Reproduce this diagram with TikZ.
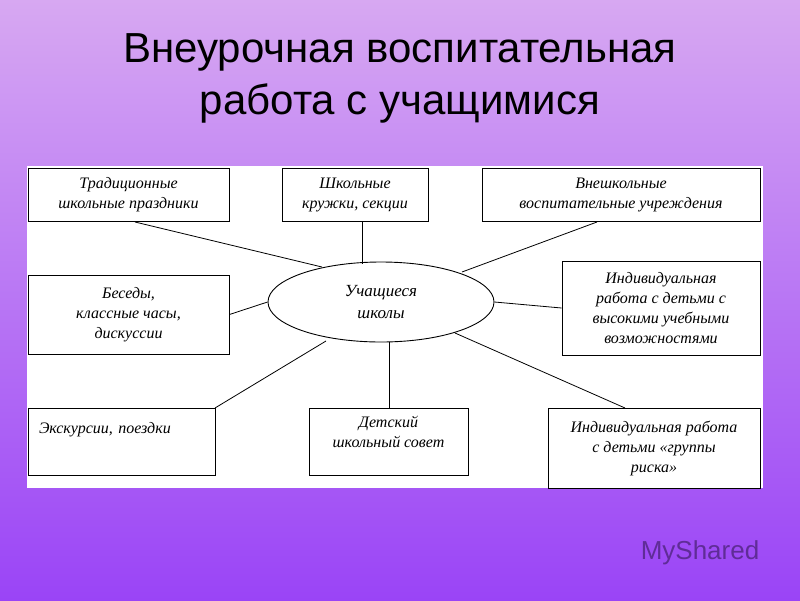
\documentclass[tikz,border=0pt]{standalone}
\usepackage{fontspec}
\usetikzlibrary{shapes.geometric}
\setmainfont{Liberation Serif}
\newfontfamily\titlefont{Liberation Sans}
\definecolor{bgtop}{HTML}{D7A8F2}
\definecolor{bgbot}{HTML}{9A44F6}
\tikzset{
  bx/.style={draw=black,line width=0.9pt,fill=white,inner sep=0pt,font=\itshape\fontsize{16}{20}\selectfont,align=center},
  ln/.style={draw=black,line width=0.8pt}
}
\begin{document}
\begin{tikzpicture}[x=1pt,y=-1pt]
\shade[top color=bgtop,bottom color=bgbot] (0,0) rectangle (800,600);
\useasboundingbox (0,0) rectangle (800,600);
\node[font=\titlefont\fontsize{42}{52}\selectfont,align=center] (title) at (400,78) {Внеурочная воспитательная\\работа с учащимися};
\fill[white] (27,166) rectangle (763,488);
\node[bx,minimum width=201,minimum height=53] (b1) at (128.5,194.5) {Традиционные\\школьные праздники};
\node[bx,minimum width=146,minimum height=53] (b2) at (355,194.5) {Школьные\\кружки, секции};
\node[bx,minimum width=278,minimum height=53] (b3) at (621,194.5) {Внешкольные\\воспитательные учреждения};
\node[bx,minimum width=201,minimum height=79] (b4) at (128.5,314.5) {Беседы,\\классные часы,\\дискуссии};
\node[bx,minimum width=198,minimum height=94] (b5) at (661,308) {Индивидуальная\\работа с детьми с\\высокими учебными\\возможностями};
\node[bx,minimum width=187,minimum height=67,align=left,text width=165] (b6) at (121.5,441.5) {\vspace*{-28pt}\newline Экскурсии, поездки};
\node[bx,minimum width=159,minimum height=67] (b7) at (388.5,441.5) {Детский\\школьный совет\\[-6pt]\strut};
\node[bx,minimum width=212,minimum height=80] (b8) at (654,448) {Индивидуальная работа\\с детьми «группы\\риска»};
\node[ellipse,draw=black,line width=0.9pt,minimum width=226,minimum height=80,inner sep=0pt,font=\itshape\fontsize{17}{22}\selectfont,align=center] (e) at (381,302) {Учащиеся\\школы};
\coordinate (c1) at (135,222); \coordinate (e1) at (322,267);
\coordinate (c3) at (597,222); \coordinate (e3) at (462,272);
\coordinate (e6) at (326,341); \coordinate (c6) at (215,408);
\coordinate (e8) at (455,333); \coordinate (c8) at (625,408);
\draw[ln] (c1) -- (e1);
\draw[ln] (b2.south -| 362,0) -- (362,264);
\draw[ln] (c3) -- (e3);
\draw[ln] (b4.east) -- (e.west);
\draw[ln] (b5.west) -- (e.east);
\draw[ln] (e6) -- (c6);
\draw[ln] (e.south -| 389,0) -- (b7.north -| 389,0);
\draw[ln] (e8) -- (c8);
\node[font=\titlefont\fontsize{26}{30}\selectfont,text=black!55!bgbot,opacity=0.7] (wm) at (700,553) {MyShared};
\end{tikzpicture}
\end{document}
